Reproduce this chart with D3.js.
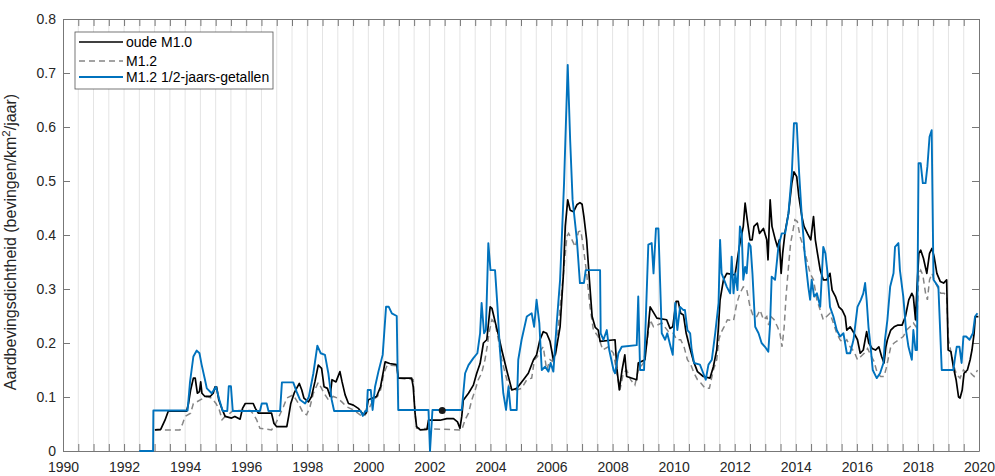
<!DOCTYPE html>
<html>
<head>
<meta charset="utf-8">
<script src="https://cdn.jsdelivr.net/npm/d3@7"></script>
<style>
  body { margin: 0; background: #fff; }
  svg { display: block; font-family: "Liberation Sans", Arial, sans-serif; }
</style>
</head>
<body>
<div id="chart"></div>
<script>
// [jaar, dichtheid]
const oudeM10 = [
  [1993.01,0.039],[1993.20,0.040],[1993.34,0.057],[1993.45,0.074],[1994.05,0.074],[1994.11,0.088],[1994.18,0.113],[1994.27,0.135],[1994.33,0.135],[1994.40,0.107],[1994.47,0.11],[1994.51,0.128],[1994.55,0.107],[1994.65,0.101],[1994.82,0.101],[1994.92,0.107],[1994.98,0.119],[1995.03,0.119],[1995.10,0.095],[1995.20,0.079],[1995.31,0.064],[1995.52,0.061],[1995.63,0.064],[1995.80,0.059],[1995.88,0.079],[1995.97,0.088],[1996.23,0.088],[1996.30,0.079],[1996.40,0.07],[1996.83,0.07],[1996.91,0.051],[1997.00,0.045],[1997.33,0.045],[1997.39,0.064],[1997.46,0.088],[1997.57,0.107],[1997.65,0.116],[1997.74,0.125],[1997.82,0.113],[1997.89,0.098],[1998.04,0.091],[1998.14,0.101],[1998.25,0.128],[1998.36,0.159],[1998.47,0.153],[1998.55,0.119],[1998.66,0.116],[1998.75,0.101],[1998.81,0.132],[1998.94,0.128],[1999.07,0.147],[1999.14,0.128],[1999.24,0.104],[1999.35,0.088],[1999.51,0.085],[1999.67,0.079],[1999.84,0.067],[1999.92,0.07],[2000.00,0.095],[2000.27,0.101],[2000.40,0.119],[2000.55,0.165],[2000.70,0.162],[2000.93,0.16],[2000.98,0.135],[2001.42,0.135],[2001.47,0.119],[2001.53,0.07],[2001.58,0.045],[2001.70,0.039],[2001.92,0.040],[2001.97,0.057],[2002.35,0.057],[2002.57,0.06],[2002.79,0.06],[2002.92,0.054],[2003.00,0.042],[2003.06,0.064],[2003.11,0.094],[2003.28,0.107],[2003.44,0.122],[2003.55,0.144],[2003.66,0.162],[2003.77,0.2],[2003.88,0.206],[2003.99,0.267],[2004.05,0.264],[2004.15,0.24],[2004.26,0.215],[2004.37,0.187],[2004.53,0.15],[2004.70,0.113],[2004.86,0.116],[2005.08,0.132],[2005.24,0.144],[2005.41,0.169],[2005.51,0.178],[2005.62,0.206],[2005.73,0.221],[2005.84,0.218],[2005.95,0.203],[2006.06,0.169],[2006.15,0.187],[2006.28,0.23],[2006.39,0.329],[2006.45,0.416],[2006.53,0.465],[2006.61,0.446],[2006.72,0.443],[2006.83,0.456],[2006.93,0.46],[2007.00,0.457],[2007.06,0.434],[2007.15,0.391],[2007.24,0.317],[2007.33,0.249],[2007.43,0.229],[2007.53,0.224],[2007.59,0.203],[2008.08,0.206],[2008.14,0.153],[2008.22,0.113],[2008.31,0.15],[2008.40,0.178],[2008.46,0.138],[2008.79,0.132],[2008.84,0.163],[2009.06,0.169],[2009.14,0.212],[2009.23,0.267],[2009.45,0.246],[2009.77,0.243],[2009.88,0.227],[2009.97,0.23],[2010.08,0.277],[2010.15,0.277],[2010.23,0.255],[2010.32,0.252],[2010.41,0.218],[2010.52,0.193],[2010.65,0.166],[2010.78,0.147],[2010.97,0.138],[2011.19,0.135],[2011.30,0.156],[2011.41,0.187],[2011.46,0.224],[2011.52,0.28],[2011.63,0.317],[2011.74,0.329],[2012.01,0.326],[2012.15,0.378],[2012.28,0.416],[2012.34,0.459],[2012.41,0.428],[2012.50,0.391],[2012.57,0.391],[2012.63,0.416],[2012.74,0.422],[2012.81,0.403],[2012.94,0.412],[2013.05,0.391],[2013.09,0.354],[2013.16,0.465],[2013.22,0.416],[2013.33,0.391],[2013.40,0.378],[2013.46,0.391],[2013.52,0.329],[2013.57,0.366],[2013.65,0.406],[2013.76,0.44],[2013.87,0.496],[2013.94,0.517],[2014.03,0.508],[2014.10,0.471],[2014.20,0.434],[2014.27,0.416],[2014.38,0.403],[2014.49,0.391],[2014.58,0.434],[2014.64,0.391],[2014.71,0.366],[2014.80,0.335],[2014.90,0.317],[2015.01,0.317],[2015.12,0.329],[2015.19,0.298],[2015.30,0.286],[2015.41,0.267],[2015.52,0.261],[2015.62,0.249],[2015.67,0.224],[2015.78,0.23],[2015.91,0.218],[2016.02,0.206],[2016.11,0.181],[2016.21,0.187],[2016.32,0.221],[2016.39,0.2],[2016.50,0.19],[2016.61,0.187],[2016.72,0.193],[2016.81,0.175],[2016.89,0.163],[2016.95,0.193],[2017.00,0.206],[2017.11,0.224],[2017.22,0.23],[2017.33,0.233],[2017.48,0.233],[2017.59,0.249],[2017.70,0.28],[2017.80,0.292],[2017.85,0.286],[2017.92,0.243],[2017.97,0.304],[2018.03,0.366],[2018.09,0.372],[2018.18,0.357],[2018.29,0.329],[2018.38,0.366],[2018.46,0.375],[2018.53,0.36],[2018.62,0.329],[2018.73,0.314],[2018.84,0.311],[2018.94,0.317],[2018.99,0.187],[2019.08,0.184],[2019.16,0.156],[2019.25,0.132],[2019.33,0.1],[2019.38,0.098],[2019.45,0.113],[2019.51,0.144],[2019.62,0.15],[2019.71,0.169],[2019.77,0.187],[2019.84,0.218],[2019.88,0.249],[2019.98,0.249]
];

const m12 = [
  [1993.01,0.039],[1993.83,0.039],[1993.92,0.051],[1994.00,0.064],[1994.18,0.07],[1994.27,0.088],[1994.38,0.091],[1994.54,0.096],[1994.71,0.101],[1994.87,0.098],[1995.01,0.088],[1995.12,0.076],[1995.21,0.058],[1995.31,0.064],[1995.47,0.07],[1995.58,0.075],[1996.13,0.075],[1996.23,0.069],[1996.34,0.058],[1996.45,0.042],[1996.83,0.039],[1996.94,0.048],[1997.05,0.061],[1997.22,0.082],[1997.33,0.098],[1997.54,0.104],[1997.71,0.088],[1997.87,0.07],[1997.98,0.067],[1998.09,0.082],[1998.20,0.107],[1998.36,0.127],[1998.44,0.119],[1998.55,0.107],[1998.69,0.095],[1998.85,0.101],[1998.99,0.098],[1999.13,0.091],[1999.29,0.082],[1999.51,0.076],[1999.73,0.067],[1999.86,0.064],[2000.00,0.076],[2000.16,0.095],[2000.30,0.101],[2000.40,0.113],[2000.51,0.144],[2000.62,0.159],[2000.93,0.158],[2000.98,0.135],[2001.47,0.132],[2001.53,0.07],[2001.58,0.042],[2003.06,0.039],[2003.17,0.058],[2003.28,0.07],[2003.39,0.095],[2003.50,0.113],[2003.60,0.132],[2003.71,0.144],[2003.82,0.169],[2003.90,0.196],[2003.96,0.221],[2004.05,0.243],[2004.15,0.237],[2004.26,0.206],[2004.37,0.169],[2004.48,0.144],[2004.62,0.116],[2004.86,0.113],[2005.02,0.116],[2005.19,0.132],[2005.35,0.135],[2005.44,0.169],[2005.54,0.175],[2005.65,0.187],[2005.73,0.193],[2005.84,0.15],[2005.95,0.169],[2006.04,0.166],[2006.15,0.181],[2006.28,0.267],[2006.39,0.329],[2006.50,0.397],[2006.56,0.403],[2006.67,0.391],[2006.78,0.378],[2006.88,0.406],[2006.96,0.408],[2007.04,0.378],[2007.15,0.329],[2007.26,0.267],[2007.37,0.224],[2007.53,0.212],[2007.68,0.187],[2007.86,0.193],[2008.03,0.181],[2008.14,0.144],[2008.24,0.113],[2008.35,0.144],[2008.46,0.15],[2008.59,0.132],[2008.73,0.122],[2008.84,0.15],[2009.01,0.163],[2009.12,0.2],[2009.23,0.243],[2009.34,0.23],[2009.61,0.237],[2009.83,0.221],[2009.99,0.218],[2010.10,0.206],[2010.23,0.206],[2010.34,0.193],[2010.45,0.169],[2010.56,0.16],[2010.67,0.144],[2010.78,0.132],[2010.89,0.126],[2011.03,0.116],[2011.17,0.116],[2011.30,0.15],[2011.41,0.169],[2011.48,0.206],[2011.54,0.218],[2011.65,0.23],[2011.76,0.243],[2011.96,0.241],[2012.07,0.274],[2012.17,0.292],[2012.28,0.304],[2012.39,0.3],[2012.50,0.267],[2012.61,0.249],[2012.72,0.249],[2012.83,0.261],[2012.94,0.243],[2013.05,0.249],[2013.11,0.233],[2013.18,0.249],[2013.29,0.243],[2013.40,0.23],[2013.48,0.218],[2013.55,0.193],[2013.62,0.23],[2013.68,0.286],[2013.76,0.341],[2013.83,0.385],[2013.90,0.406],[2013.97,0.428],[2014.05,0.425],[2014.14,0.397],[2014.25,0.378],[2014.36,0.354],[2014.47,0.329],[2014.58,0.317],[2014.69,0.28],[2014.80,0.261],[2014.90,0.243],[2015.01,0.249],[2015.12,0.255],[2015.23,0.237],[2015.34,0.218],[2015.45,0.206],[2015.56,0.2],[2015.67,0.206],[2015.78,0.193],[2015.91,0.184],[2016.02,0.169],[2016.13,0.175],[2016.24,0.181],[2016.35,0.19],[2016.45,0.178],[2016.56,0.166],[2016.67,0.144],[2016.78,0.138],[2016.89,0.138],[2016.96,0.153],[2017.02,0.169],[2017.11,0.193],[2017.22,0.2],[2017.37,0.206],[2017.52,0.212],[2017.63,0.224],[2017.74,0.23],[2017.85,0.237],[2017.94,0.23],[2017.98,0.261],[2018.03,0.329],[2018.09,0.335],[2018.16,0.326],[2018.25,0.292],[2018.31,0.28],[2018.38,0.317],[2018.46,0.329],[2018.53,0.317],[2018.64,0.304],[2018.75,0.292],[2018.86,0.292],[2018.94,0.286],[2019.00,0.206],[2019.08,0.184],[2019.16,0.16],[2019.27,0.141],[2019.38,0.135],[2019.49,0.15],[2019.60,0.144],[2019.73,0.144],[2019.84,0.138],[2019.95,0.15]
];

const m12Half = [
  [1992.50,0],[1992.95,0],[1992.96,0.075],[1994.08,0.075],[1994.16,0.128],[1994.27,0.175],[1994.38,0.186],[1994.47,0.181],[1994.54,0.16],[1994.65,0.132],[1994.71,0.116],[1994.87,0.107],[1995.01,0.119],[1995.12,0.095],[1995.23,0.074],[1995.38,0.074],[1995.43,0.12],[1995.50,0.12],[1995.56,0.074],[1996.45,0.074],[1996.51,0.088],[1996.67,0.088],[1996.73,0.074],[1997.11,0.074],[1997.17,0.127],[1997.54,0.127],[1997.65,0.11],[1997.76,0.095],[1997.93,0.088],[1998.05,0.1],[1998.20,0.144],[1998.33,0.195],[1998.44,0.181],[1998.58,0.178],[1998.69,0.144],[1998.80,0.095],[1998.88,0.074],[1999.75,0.074],[1999.82,0.065],[1999.90,0.074],[1999.95,0.074],[1999.98,0.113],[2000.08,0.113],[2000.14,0.076],[2000.22,0.119],[2000.33,0.147],[2000.47,0.178],[2000.58,0.267],[2000.67,0.267],[2000.77,0.255],[2000.93,0.25],[2000.98,0.076],[2001.97,0.076],[2002.02,0],[2002.10,0.076],[2003.06,0.076],[2003.17,0.144],[2003.28,0.159],[2003.44,0.172],[2003.57,0.181],[2003.66,0.218],[2003.71,0.274],[2003.79,0.218],[2003.85,0.224],[2003.93,0.385],[2004.00,0.335],[2004.15,0.335],[2004.23,0.267],[2004.31,0.187],[2004.42,0.107],[2004.51,0.076],[2004.59,0.119],[2004.66,0.076],[2004.86,0.076],[2004.91,0.169],[2005.02,0.206],[2005.19,0.249],[2005.35,0.255],[2005.43,0.23],[2005.51,0.28],[2005.60,0.237],[2005.68,0.15],[2005.79,0.156],[2005.90,0.147],[2005.97,0.163],[2006.06,0.147],[2006.17,0.237],[2006.28,0.317],[2006.41,0.496],[2006.53,0.715],[2006.61,0.576],[2006.69,0.465],[2006.83,0.391],[2006.93,0.311],[2007.06,0.311],[2007.12,0.335],[2007.59,0.335],[2007.61,0.218],[2007.70,0.206],[2007.81,0.224],[2007.89,0.187],[2008.03,0.15],[2008.08,0.144],[2008.19,0.181],[2008.30,0.193],[2008.79,0.196],[2008.84,0.286],[2008.90,0.15],[2009.03,0.15],[2009.17,0.382],[2009.28,0.385],[2009.34,0.329],[2009.42,0.412],[2009.50,0.412],[2009.61,0.218],[2009.72,0.206],[2009.79,0.218],[2009.90,0.193],[2009.97,0.178],[2010.05,0.274],[2010.12,0.224],[2010.21,0.267],[2010.32,0.261],[2010.37,0.261],[2010.45,0.224],[2010.54,0.218],[2010.59,0.187],[2010.67,0.163],[2010.86,0.16],[2010.97,0.144],[2011.05,0.132],[2011.14,0.16],[2011.25,0.169],[2011.36,0.218],[2011.47,0.274],[2011.52,0.391],[2011.57,0.329],[2011.74,0.304],[2011.85,0.292],[2011.90,0.36],[2011.96,0.292],[2012.02,0.329],[2012.09,0.298],[2012.17,0.416],[2012.23,0.403],[2012.28,0.317],[2012.34,0.341],[2012.39,0.329],[2012.46,0.385],[2012.52,0.379],[2012.58,0.329],[2012.67,0.23],[2012.78,0.218],[2012.88,0.2],[2012.99,0.193],[2013.10,0.184],[2013.16,0.237],[2013.21,0.323],[2013.32,0.317],[2013.43,0.378],[2013.54,0.403],[2013.65,0.403],[2013.76,0.44],[2013.87,0.514],[2013.94,0.607],[2014.03,0.607],[2014.11,0.514],[2014.19,0.44],[2014.30,0.36],[2014.41,0.304],[2014.47,0.28],[2014.52,0.317],[2014.60,0.286],[2014.69,0.292],[2014.80,0.267],[2014.90,0.378],[2014.97,0.366],[2015.04,0.329],[2015.12,0.267],[2015.23,0.249],[2015.34,0.224],[2015.45,0.212],[2015.56,0.218],[2015.67,0.181],[2015.78,0.181],[2015.89,0.206],[2016.02,0.267],[2016.13,0.28],[2016.21,0.292],[2016.27,0.311],[2016.32,0.28],[2016.38,0.23],[2016.45,0.193],[2016.52,0.15],[2016.65,0.135],[2016.76,0.144],[2016.87,0.163],[2016.92,0.206],[2017.00,0.243],[2017.09,0.304],[2017.20,0.329],[2017.25,0.378],[2017.36,0.385],[2017.41,0.335],[2017.52,0.286],[2017.61,0.224],[2017.69,0.193],[2017.80,0.169],[2017.85,0.224],[2017.92,0.187],[2017.97,0.187],[2018.02,0.533],[2018.09,0.533],[2018.16,0.496],[2018.25,0.496],[2018.31,0.527],[2018.38,0.582],[2018.45,0.594],[2018.51,0.317],[2018.67,0.304],[2018.78,0.15],[2019.16,0.15],[2019.22,0.175],[2019.27,0.193],[2019.36,0.193],[2019.43,0.163],[2019.49,0.212],[2019.58,0.212],[2019.69,0.206],[2019.80,0.218],[2019.87,0.249],[2019.95,0.255]
];

const marker = [2002.42, 0.075];

const legendLabels = ["oude M1.0", "M1.2", "M1.2 1/2-jaars-getallen"];
const halfYears = d3.range(1990, 2020.01, 0.5);
const yTicks = [0, 0.1, 0.2, 0.3, 0.4, 0.5, 0.6, 0.7, 0.8];

const width = 995;
const height = 476;
const margin = {top: 19, right: 16, bottom: 25, left: 63};

const x = d3.scaleLinear().domain([1990, 2020]).range([margin.left, width - margin.right]);
const y = d3.scaleLinear().domain([0, 0.8]).range([height - margin.bottom, margin.top]);

const svg = d3.select('#chart').append('svg')
  .attr('width', width)
  .attr('height', height);

// vertical grid every half year
svg.append('g')
  .selectAll('line')
  .data(halfYears.slice(1, -1))
  .join('line')
  .attr('x1', d => x(d)).attr('x2', d => x(d))
  .attr('y1', y(0)).attr('y2', y(0.8))
  .style('stroke', '#e4e4e4')
  .style('stroke-width', 1);

const axisColor = '#777';
const styleAxis = (g) => {
  g.selectAll('path.domain').style('stroke', axisColor);
  g.selectAll('.tick line').style('stroke', axisColor);
  g.selectAll('.tick text')
    .style('fill', '#262626')
    .style('font-size', '14px')
    .style('font-family', '"Liberation Sans", Arial, sans-serif');
};

svg.append('g')
  .attr('transform', `translate(0,${y(0)})`)
  .call(d3.axisBottom(x).tickValues(halfYears).tickSize(-7).tickSizeOuter(0).tickPadding(11)
    .tickFormat(d => (Math.abs(d % 2) < 1e-9) ? d3.format('d')(d) : ''))
  .call(styleAxis);

svg.append('g')
  .attr('transform', `translate(0,${y(0.8)})`)
  .call(d3.axisTop(x).tickValues(halfYears).tickSize(-7).tickSizeOuter(0).tickFormat(''))
  .call(styleAxis);

svg.append('g')
  .attr('transform', `translate(${x(1990)},0)`)
  .call(d3.axisLeft(y).tickValues(yTicks).tickSize(-7).tickSizeOuter(0).tickPadding(7)
    .tickFormat(d => d === 0 ? '0' : d3.format('.1f')(d)))
  .call(styleAxis);

svg.append('g')
  .attr('transform', `translate(${x(2020)},0)`)
  .call(d3.axisRight(y).tickValues(yTicks).tickSize(-7).tickSizeOuter(0).tickFormat(''))
  .call(styleAxis);

// y label
const yLabel = svg.append('text')
  .attr('transform', `translate(16,242) rotate(-90)`)
  .attr('text-anchor', 'middle')
  .style('font-size', '16px')
  .style('fill', '#262626');
yLabel.append('tspan').text('Aardbevingsdichtheid (bevingen/km');
yLabel.append('tspan').attr('baseline-shift', 'super').style('font-size', '11.5px').text('2');
yLabel.append('tspan').text('/jaar)');

const line = d3.line().x(d => x(d[0])).y(d => y(d[1]));

svg.append('path')
  .datum(m12)
  .attr('d', line)
  .style('fill', 'none')
  .style('stroke', '#858585')
  .style('stroke-width', 1.5)
  .style('stroke-dasharray', '6,4');

svg.append('path')
  .datum(oudeM10)
  .attr('d', line)
  .style('fill', 'none')
  .style('stroke', '#000')
  .style('stroke-width', 1.7)
  .style('stroke-linejoin', 'round');

svg.append('path')
  .datum(m12Half)
  .attr('d', line)
  .style('fill', 'none')
  .style('stroke', '#0072BD')
  .style('stroke-width', 1.9)
  .style('stroke-linejoin', 'round');

svg.append('circle')
  .attr('cx', x(marker[0]))
  .attr('cy', y(marker[1]))
  .attr('r', 3.5)
  .style('fill', '#1a1a1a');

// legend
const legend = svg.append('g');
legend.append('rect')
  .attr('x', 75).attr('y', 32).attr('width', 198).attr('height', 57)
  .style('fill', '#fff')
  .style('stroke', '#555')
  .style('stroke-width', 0.8);

const legendStyles = [
  {stroke: '#000', width: 1.7, dash: null},
  {stroke: '#858585', width: 1.5, dash: '6,4'},
  {stroke: '#0072BD', width: 1.9, dash: null}
];
const legendRows = [42, 61, 77];

legendLabels.forEach((label, i) => {
  legend.append('line')
    .attr('x1', 79).attr('x2', 123)
    .attr('y1', legendRows[i]).attr('y2', legendRows[i])
    .style('stroke', legendStyles[i].stroke)
    .style('stroke-width', legendStyles[i].width)
    .style('stroke-dasharray', legendStyles[i].dash);
  legend.append('text')
    .attr('x', 126).attr('y', legendRows[i])
    .attr('dy', '0.35em')
    .style('font-size', '14px')
    .style('fill', '#000')
    .text(label);
});
</script>
</body>
</html>
